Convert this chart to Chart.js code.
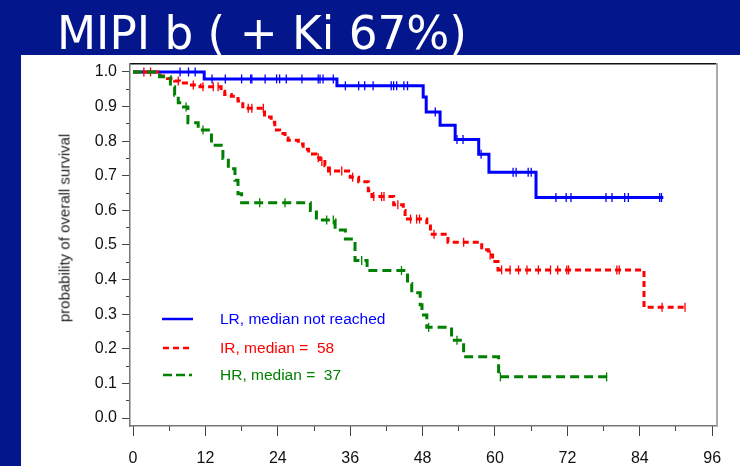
<!DOCTYPE html>
<html>
<head>
<meta charset="utf-8">
<script src="https://cdn.jsdelivr.net/npm/chart.js@4.4.1/dist/chart.umd.min.js"></script>
<style>
  html, body { margin: 0; padding: 0; }
  body { width: 740px; height: 466px; background: #03168c; position: relative; overflow: hidden; font-family: Arial, "Liberation Sans", sans-serif; }
  #title { position: absolute; left: 57px; top: 9px; color: #fff; font-family: "DejaVu Sans", sans-serif; font-stretch: condensed; font-size: 47px; line-height: 47px; white-space: nowrap; transform-origin: 0 0; z-index: 2; }
  #panel { position: absolute; left: 21px; top: 55px; width: 719px; height: 411px; background: #fff; }
  #ylabel { position: absolute; left: 64px; top: 228px; transform: translate(-50%, -50%) rotate(-90deg); white-space: nowrap; font-size: 15px; color: #222; z-index: 2; }
  .leg { position: absolute; left: 160px; width: 240px; height: 20px; z-index: 2; }
  .leg svg { position: absolute; left: 0; top: 0; }
  .leg span { position: absolute; left: 60px; top: 0; line-height: 20px; font-size: 15.5px; white-space: nowrap; }
</style>
</head>
<body>
<div id="title">MIPI b ( + Ki 67%)</div>
<div id="panel"><canvas id="km" width="719" height="411"></canvas></div>
<div id="ylabel">probability of overall survival</div>
<div class="leg" style="top:309px"><svg width="40" height="20"><line x1="2" y1="10" x2="33" y2="10" stroke="#0000ff" stroke-width="2.5"/></svg><span style="color:#0000ff">LR, median not reached</span></div>
<div class="leg" style="top:338px"><svg width="40" height="20"><line x1="3" y1="10" x2="30" y2="10" stroke="#ff0000" stroke-width="2.5" stroke-dasharray="6 4"/></svg><span style="color:#ff0000">IR, median =&nbsp; 58</span></div>
<div class="leg" style="top:365px"><svg width="40" height="20"><line x1="3" y1="10" x2="32" y2="10" stroke="#008000" stroke-width="2.5" stroke-dasharray="9 4"/></svg><span style="color:#008000">HR, median =&nbsp; 37</span></div>
<script>
// months, survival after each event
const lrTimes = [0, 11.8, 33.8, 48.1, 48.6, 50.9, 53.4, 57.3, 59.0, 66.8, 87.9];
const lrSurv = [1.0, 0.98, 0.96, 0.928, 0.884, 0.846, 0.805, 0.762, 0.71, 0.637, 0.637];
const lrCensor = [7.8, 9.2, 10.3, 13.1, 15.3, 18, 19.5, 19.7, 21.9, 23.8, 24.3, 25.4, 28, 30.7, 31, 31.5, 33.2, 35.2, 37.4, 38.4, 39.8, 42.8, 43.2, 43.7, 44.9, 45.5, 50.1, 53.7, 54.7, 57.7, 63, 63.5, 65.5, 66, 70.1, 71.8, 72.6, 78.4, 79.4, 81.5, 82.1, 87.3, 87.6];

const irTimes = [0, 4.6, 5.7, 6.9, 7.7, 9.7, 11.1, 14.6, 15.2, 16.3, 17.4, 18.2, 21.8, 22.9, 23.5, 24.3, 25.2, 25.7, 27.4, 28.2, 29.1, 30.3, 31.0, 31.8, 32.4, 36.0, 37.4, 39.0, 39.6, 43.2, 44.8, 45.1, 48.7, 49.3, 52.2, 57.8, 58.9, 59.6, 60.5, 84.7, 91.5];
const irSurv = [1.0, 0.988, 0.981, 0.974, 0.968, 0.962, 0.957, 0.944, 0.935, 0.93, 0.916, 0.895, 0.87, 0.855, 0.832, 0.822, 0.809, 0.803, 0.792, 0.777, 0.763, 0.752, 0.741, 0.729, 0.714, 0.696, 0.683, 0.657, 0.64, 0.616, 0.6, 0.575, 0.555, 0.531, 0.508, 0.486, 0.471, 0.452, 0.428, 0.32, 0.32];
const irCensor = [1.8, 2.9, 7.5, 10, 11.6, 13.3, 14.1, 19.1, 19.7, 21.6, 30.7, 31.3, 32.7, 34.6, 36.4, 39.9, 41.2, 41.6, 43.9, 46, 47, 47.5, 49.9, 54.8, 59.2, 61.1, 62.5, 63.9, 65.3, 67.2, 69.2, 70.4, 71.9, 72.2, 80.2, 80.6, 87.7, 91.5];

const hrTimes = [0, 4.4, 6.2, 6.9, 7.5, 8.0, 9.1, 10.8, 13.0, 14.9, 15.8, 16.9, 17.4, 18.0, 29.4, 30.4, 33.5, 35.2, 36.8, 38.8, 45.5, 46.2, 47.6, 47.9, 48.7, 52.8, 54.8, 60.6, 78.6];
const hrSurv = [1.0, 0.986, 0.957, 0.933, 0.911, 0.899, 0.853, 0.832, 0.788, 0.75, 0.72, 0.687, 0.648, 0.622, 0.6, 0.572, 0.543, 0.517, 0.455, 0.426, 0.389, 0.362, 0.327, 0.298, 0.262, 0.225, 0.177, 0.119, 0.119];
const hrCensor = [8.8, 11.6, 21, 25.2, 32.1, 33.2, 37.9, 44.5, 49, 53.7, 60.9, 78.5];

const xMin = -0.5, xMax = 96.8;
const yMin = -0.023, yMax = 1.023;

// squeeze title to the width it has in the slide
const title = document.getElementById("title");
title.style.transform = "scaleX(" + (410 / title.getBoundingClientRect().width) + ")";

function curve(times, surv) {
  return times.map((t, i) => ({ x: t, y: surv[i] }));
}

function survAt(times, surv, t) {
  let s = surv[0];
  for (let i = 0; i < times.length; i++) {
    if (times[i] <= t) s = surv[i];
  }
  return s;
}

function censored(cens, times, surv) {
  return cens.map(t => ({ x: t, y: survAt(times, surv, t) }));
}

function stepSet(data, color, dash, order) {
  return { data: data, showLine: true, stepped: true, borderColor: color, borderWidth: 3,
    borderDash: dash, pointRadius: 0, fill: false, order: order };
}

function tickSet(data, color, order) {
  return { data: data, showLine: false, pointStyle: "line", rotation: 90, pointRadius: 4.5,
    pointBorderWidth: 1.3, pointBorderColor: color, pointBackgroundColor: color, order: order };
}

const tickFont = { family: "Arial, 'Liberation Sans', sans-serif", size: 16 };

new Chart(document.getElementById("km").getContext("2d"), {
  type: "scatter",
  data: {
    datasets: [
      stepSet(curve(lrTimes, lrSurv), "#0000ff", [], 3),
      stepSet(curve(irTimes, irSurv), "#ff0000", [6, 4], 2),
      stepSet(curve(hrTimes, hrSurv), "#008000", [9, 5], 1),
      tickSet(censored(lrCensor, lrTimes, lrSurv), "#0000ff", 3),
      tickSet(censored(irCensor, irTimes, irSurv), "#ff0000", 2),
      tickSet(censored(hrCensor, hrTimes, hrSurv), "#008000", 1)
    ]
  },
  options: {
    responsive: false,
    animation: false,
    events: [],
    layout: { autoPadding: false, padding: { top: 9, right: 23, bottom: 0, left: 0 } },
    plugins: { legend: { display: false }, tooltip: { enabled: false } },
    scales: {
      x: {
        type: "linear", position: "bottom", weight: 1, min: xMin, max: xMax,
        ticks: { stepSize: 12, includeBounds: false, autoSkip: false, maxRotation: 0, padding: 13, color: "#111", font: tickFont },
        grid: { drawOnChartArea: false, tickLength: 10, tickColor: "#444", tickWidth: 1 },
        border: { color: "#777", width: 1.5 },
        afterFit: s => { s.height = 40; s.paddingLeft = 0; s.paddingRight = 0; }
      },
      xMinor: {
        type: "linear", position: "bottom", weight: 0, min: xMin, max: xMax,
        ticks: { stepSize: 6, includeBounds: false, autoSkip: false, display: false },
        grid: { drawOnChartArea: false, tickLength: 5, tickColor: "#444", tickWidth: 1 },
        border: { display: false },
        afterFit: s => { s.height = 0; s.paddingLeft = 0; s.paddingRight = 0; }
      },
      xTop: {
        type: "linear", position: "top", min: xMin, max: xMax,
        ticks: { display: false },
        grid: { drawOnChartArea: false, drawTicks: false },
        border: { color: "#111", width: 1.5 },
        afterFit: s => { s.height = 0; }
      },
      y: {
        type: "linear", position: "left", weight: 1, min: yMin, max: yMax,
        ticks: { stepSize: 0.1, includeBounds: false, autoSkip: false, padding: 5, color: "#111", font: tickFont,
          callback: v => v.toFixed(1) },
        grid: { drawOnChartArea: false, tickLength: 8, tickColor: "#444", tickWidth: 1 },
        border: { color: "#777", width: 1.5 },
        afterFit: s => { s.width = 109; s.paddingTop = 0; s.paddingBottom = 0; }
      },
      yMinor: {
        type: "linear", position: "left", weight: 0, min: yMin, max: yMax,
        ticks: { stepSize: 0.05, includeBounds: false, autoSkip: false, display: false },
        grid: { drawOnChartArea: false, tickLength: 4, tickColor: "#444", tickWidth: 1 },
        border: { display: false },
        afterFit: s => { s.width = 0; s.paddingTop = 0; s.paddingBottom = 0; }
      },
      yRight: {
        type: "linear", position: "right", min: yMin, max: yMax,
        ticks: { display: false },
        grid: { drawOnChartArea: false, drawTicks: false },
        border: { color: "#aaa", width: 2 },
        afterFit: s => { s.width = 0; }
      }
    }
  }
});
</script>
</body>
</html>
